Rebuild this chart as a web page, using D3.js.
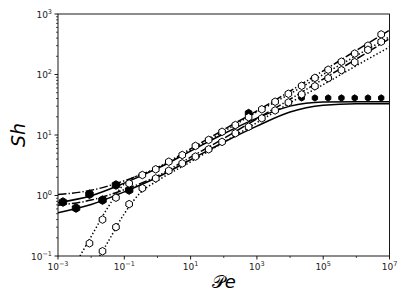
<html>
<head>
<script src="https://cdn.jsdelivr.net/npm/d3@7"></script>
<style>
  body { margin: 0; background: #fff; }
  text { font-family: "DejaVu Sans", sans-serif; }
</style>
</head>
<body>
<script>
// ---- data ----
var peTicks = [1e-3, 1e-1, 1e1, 1e3, 1e5, 1e7];
var peMinor = [1e-2, 1, 1e2, 1e4, 1e6];
var shTicks = [1e-1, 1, 1e1, 1e2, 1e3];

// solid lines
var solidUpPe = [1e-3, 1e-2, 1e-1, 1, 1e1, 1e2, 1e3, 1e4, 1e5, 1e6, 1e7];
var solidUpSh = [0.76, 0.99, 1.6, 2.8, 5.4, 10.5, 19, 30, 35, 35.5, 35.5];
var solidLoPe = [1e-3, 1e-2, 1e-1, 1, 1e1, 1e2, 1e3, 1e4, 1e5, 1e6, 1e7];
var solidLoSh = [0.52, 0.71, 1.15, 2.0, 3.9, 7.6, 14, 24, 31, 33, 33];
// dash-dot lines
var dashUpPe = [1e-3, 1e-2, 1e-1, 1, 1e1, 1e2, 1e3, 1e4, 1e5, 1e6, 1e7];
var dashUpSh = [1.04, 1.22, 1.75, 2.9, 5.9, 12.3, 25, 53, 115, 250, 540];
var dashLoPe = [1e-3, 1e-2, 1e-1, 1, 1e1, 1e2, 1e3, 1e4, 1e5, 1e6, 1e7];
var dashLoSh = [0.69, 0.84, 1.25, 2.1, 4.3, 8.8, 18.5, 39, 84, 180, 390];
// dotted lines
var dotUpPe = [4.6e-3, 1e-2, 3e-2, 1e-1, 1, 1e1, 1e2, 1e3, 1e4, 1e5, 1e6, 1e7];
var dotUpSh = [0.1, 0.21, 0.6, 1.55, 2.8, 5.6, 11.5, 24, 48, 100, 205, 420];
var dotLoPe = [1.8e-2, 3e-2, 1e-1, 3e-1, 1, 1e1, 1e2, 1e3, 1e4, 1e5, 1e6, 1e7];
var dotLoSh = [0.1, 0.16, 0.5, 1.1, 1.75, 3.6, 7.6, 16, 34, 68, 140, 285];

// open markers
var openUpPe = [8.9e-3, 2.2e-2, 5.6e-2, 0.14, 0.35, 0.89, 2.2, 5.6, 14, 35, 89, 224, 562, 1410, 3550, 8910, 22400, 56200, 141000, 355000, 891000, 2240000, 5620000];
var openUpSh = [0.162, 0.40, 0.92, 1.58, 2.18, 2.71, 3.62, 4.67, 6.6, 8.3, 11.3, 14.6, 19.7, 26.6, 35.5, 48, 65, 88, 120, 163, 222, 300, 460];
var openLoPe = [2.2e-2, 5.6e-2, 0.14, 0.35, 0.89, 2.2, 5.6, 14, 35, 89, 224, 562, 1410, 3550, 8910, 22400, 56200, 141000, 355000, 891000, 2240000, 5620000];
var openLoSh = [0.12, 0.30, 0.72, 1.32, 1.92, 2.57, 3.4, 4.4, 5.8, 7.7, 10.7, 13.7, 18.9, 25.5, 34.5, 47, 64, 87, 118, 160, 256, 348];

// filled markers
var filledUpPe = [1.41e-3, 8.9e-3, 5.6e-2];
var filledUpSh = [0.78, 1.05, 1.49];
var filledLoPe = [3.5e-3, 2.2e-2, 0.14];
var filledLoSh = [0.62, 0.84, 1.23];
var filledMidPe = [562];
var filledMidSh = [23];
var filledSatPe = [22400, 56200, 141000, 355000, 891000, 2240000, 5620000];
var filledSatSh = [41, 41, 41, 41, 41, 41, 41];

// ---- chart ----
var W = 407, H = 305;
var m = { left: 58, right: 17.5, top: 14, bottom: 49 };

var svg = d3.select("body").append("svg").attr("width", W).attr("height", H);

var x = d3.scaleLog().domain([1e-3, 1e7]).range([m.left, W - m.right]);
var y = d3.scaleLog().domain([1e-1, 1e3]).range([H - m.bottom, m.top]);

var plot = svg.append("g");
plot.append("clipPath").attr("id", "clip").append("rect")
  .attr("x", m.left).attr("y", m.top)
  .attr("width", W - m.left - m.right).attr("height", H - m.top - m.bottom);

var area = plot.append("g").attr("clip-path", "url(#clip)");

function zip(a, b) { return a.map(function (v, i) { return [v, b[i]]; }); }

var line = d3.line()
  .x(function (d) { return x(d[0]); })
  .y(function (d) { return y(d[1]); })
  .curve(d3.curveMonotoneX);

var lines = [
  { pe: solidUpPe, sh: solidUpSh, dash: null },
  { pe: solidLoPe, sh: solidLoSh, dash: null },
  { pe: dashUpPe, sh: dashUpSh, dash: "8.5,2.1,1.3,2.1" },
  { pe: dashLoPe, sh: dashLoSh, dash: "8.5,2.1,1.3,2.1" },
  { pe: dotUpPe, sh: dotUpSh, dash: "1.4,2.2" },
  { pe: dotLoPe, sh: dotLoSh, dash: "1.4,2.2" }
];

lines.forEach(function (l) {
  area.append("path")
    .datum(zip(l.pe, l.sh))
    .attr("d", line)
    .attr("fill", "none")
    .attr("stroke", "#000")
    .attr("stroke-width", 1.5)
    .attr("stroke-dasharray", l.dash);
});

// hexagon marker, pointy top like matplotlib 'h'
function hexPath(r) {
  var pts = d3.range(6).map(function (i) {
    var a = Math.PI / 2 + i * Math.PI / 3;
    return [r * Math.cos(a), -r * Math.sin(a)];
  });
  return "M" + pts.join("L") + "Z";
}

function markers(pe, sh, r, fill) {
  area.append("g").selectAll("path")
    .data(zip(pe, sh))
    .join("path")
    .attr("d", hexPath(r))
    .attr("transform", function (d) { return "translate(" + x(d[0]) + "," + y(d[1]) + ")"; })
    .attr("fill", fill)
    .attr("stroke", "#000")
    .attr("stroke-width", 1);
}

markers(filledUpPe, filledUpSh, 4.3, "#000");
markers(filledLoPe, filledLoSh, 4.3, "#000");
markers(filledMidPe, filledMidSh, 3.8, "#000");
markers(filledSatPe, filledSatSh, 3.1, "#000");
markers(openUpPe, openUpSh, 3.8, "#fff");
markers(openLoPe, openLoSh, 3.8, "#fff");

// frame
svg.append("rect")
  .attr("x", m.left).attr("y", m.top)
  .attr("width", W - m.left - m.right).attr("height", H - m.top - m.bottom)
  .attr("fill", "none").attr("stroke", "#000").attr("stroke-width", 0.9);

function sup(sel, d) {
  var e = Math.round(Math.log10(d));
  sel.text("10");
  sel.append("tspan").attr("dy", -4).attr("font-size", 6.5)
    .text(e < 0 ? "\u2212" + (-e) : e);
}

// x axis
var gx = svg.append("g").attr("transform", "translate(0," + (H - m.bottom) + ")");
gx.selectAll("line.maj").data(peTicks).join("line")
  .attr("x1", x).attr("x2", x).attr("y1", 0).attr("y2", 3.5)
  .attr("stroke", "#000").attr("stroke-width", 0.9);
gx.selectAll("line.min").data(peMinor).join("line")
  .attr("class", "min")
  .attr("x1", x).attr("x2", x).attr("y1", 0).attr("y2", 2)
  .attr("stroke", "#000").attr("stroke-width", 0.7);
gx.selectAll("text").data(peTicks).join("text")
  .attr("x", x).attr("y", 14).attr("text-anchor", "middle")
  .attr("font-size", 9).attr("fill", "#222")
  .each(function (d) { sup(d3.select(this), d); });

// y axis
var shMinor = [];
shTicks.slice(0, -1).forEach(function (t) {
  for (var k = 2; k < 10; k++) shMinor.push(t * k);
});
var gy = svg.append("g").attr("transform", "translate(" + m.left + ",0)");
gy.selectAll("line.maj").data(shTicks).join("line")
  .attr("y1", y).attr("y2", y).attr("x1", 0).attr("x2", -3.5)
  .attr("stroke", "#000").attr("stroke-width", 0.9);
gy.selectAll("line.min").data(shMinor).join("line")
  .attr("class", "min")
  .attr("y1", y).attr("y2", y).attr("x1", 0).attr("x2", -2)
  .attr("stroke", "#000").attr("stroke-width", 0.7);
gy.selectAll("text").data(shTicks).join("text")
  .attr("x", -6).attr("y", function (d) { return y(d) + 3.5; })
  .attr("text-anchor", "end")
  .attr("font-size", 9).attr("fill", "#222")
  .each(function (d) { sup(d3.select(this), d); });

// axis labels
svg.append("text")
  .attr("transform", "translate(25," + ((m.top + H - m.bottom) / 2) + ") rotate(-90)")
  .attr("text-anchor", "middle")
  .attr("font-size", 19).attr("font-style", "italic")
  .text("Sh");

svg.append("text")
  .attr("x", (m.left + W - m.right) / 2).attr("y", 288)
  .attr("text-anchor", "middle")
  .attr("font-size", 18)
  .text("\uD835\uDCAB")
  .append("tspan").attr("font-style", "italic").text("e");
</script>
</body>
</html>
